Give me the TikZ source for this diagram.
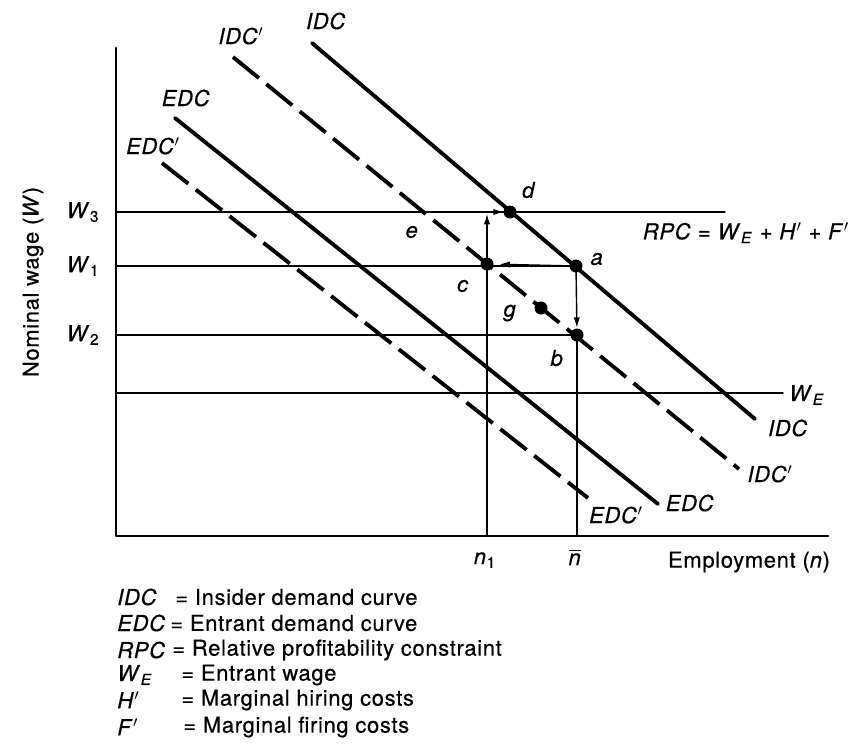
\documentclass[tikz,border=0pt]{standalone}
\usepackage{fontspec}
\setmainfont[LetterSpace=3,FakeBold=0.5]{TeX Gyre Heros}
\usepackage{amsmath}
\usetikzlibrary{arrows.meta,calc}

\begin{document}
\begin{tikzpicture}[
    x=0.02cm,
    y=-0.02cm,
    >={Latex[length=6pt,width=3.6pt]},
    line cap=round,
    line join=round,
    font=\fontsize{12.5}{15}\selectfont,
    curve/.style={line width=2.2pt},
    shifted/.style={line width=2.2pt, line cap=butt, dash pattern=on 19pt off 5.5pt},
    guide/.style={line width=0.8pt},
    axis/.style={line width=1.5pt},
    legend/.style={anchor=west, inner sep=0pt}
]

\useasboundingbox (0,0) rectangle (868,752);

% -----------------------
% Coordinates
% -----------------------
\coordinate (O)    at (116,536);
\coordinate (Ytop) at (116,48);
\coordinate (Xend) at (828,536);

\coordinate (d) at (510,212);
\coordinate (a) at (576,266);
\coordinate (c) at (487,264);
\coordinate (g) at (541,308);
\coordinate (b) at (577,335);

\coordinate (nOne) at (487,536);
\coordinate (nBar) at (577,536);
\coordinate (top3) at (487,212);

% -----------------------
% Axes
% -----------------------
\draw[axis] (Ytop) -- (O) -- (Xend);

% -----------------------
% Wage levels
% -----------------------
\draw[guide] (116,212) -- (725,212);
\draw[guide] (116,266) -- (a);
\draw[guide] (116,335) -- (b);
\draw[guide] (116,393) -- (783,393);

% -----------------------
% Employment levels
% -----------------------
\draw[guide] (nOne) -- (c);
\draw[guide] (nBar) -- (b);

% -----------------------
% Demand curves
% -----------------------
\draw[curve]   (312,43)  -- (755,419);   % IDC
\draw[shifted] (233,57)  -- (739,469);   % IDC'
\draw[curve]   (175,118) -- (658,504);   % EDC
\draw[shifted] (162,163) -- (588,498);   % EDC'

% -----------------------
% Adjustment path
% -----------------------
\draw[guide,->,shorten >=1pt]   (c) -- (top3);
\draw[guide,->,shorten >=3.5pt] (top3) -- (d);
\draw[guide,->,shorten >=7pt]   (a) -- (c);
\draw[guide,->,shorten >=4pt]   (a) -- (b);

% -----------------------
% Points
% -----------------------
\fill (d) circle (0.13cm);
\fill (a) circle (0.13cm);
\fill (c) circle (0.13cm);
\fill (g) circle (0.13cm);
\fill (b) circle (0.13cm);

\node (lblD) at (529,190) {\textit{d}};
\node (lblA) at (597,259) {\textit{a}};
\node (lblC) at (463,286) {\textit{c}};
\node (lblG) at (510,313) {\textit{g}};
\node (lblB) at (557,358) {\textit{b}};
\node (lblE) at (412,232) {\textit{e}};

% -----------------------
% Curve labels
% -----------------------
\node (topIDC)  at (326,21)  {\textit{IDC}};
\node (topIDCp) at (241,36)  {\textit{IDC}$'$};
\node (topEDC)  at (186,98)  {\textit{EDC}};
\node (topEDCp) at (153,146) {\textit{EDC}$'$};

\node (endIDC)  at (788,428) {\textit{IDC}};
\node (endIDCp) at (770,474) {\textit{IDC}$'$};
\node (endEDC)  at (690,503) {\textit{EDC}};
\node (endEDCp) at (616,515) {\textit{EDC}$'$};

\node (lblRPC) at (746,233) {\textit{RPC} = \textit{W}\textsubscript{\textit{E}} + \textit{H}$'$ + \textit{F}$'$};
\node[anchor=west,inner sep=0pt] (lblWE) at (789,395) {\textit{W}\textsubscript{\textit{E}}};

% -----------------------
% Axis labels
% -----------------------
\node (w3) at (83,212) {\textit{W}\textsubscript{3}};
\node (w1) at (83,266) {\textit{W}\textsubscript{1}};
\node (w2) at (83,335) {\textit{W}\textsubscript{2}};
\node[rotate=90] (ylab) at (33,282) {Nominal wage (\textit{W})};

\node (n1)   at (485,560) {\textit{n}\textsubscript{1}};
\node (nbar) at (575,557) {$\overline{\mbox{\textit{n}}}$};
\node (xlab) at (749,562) {Employment (\textit{n})};

% -----------------------
% Legend
% -----------------------
\node[legend] (keyIDC) at (117,597) {\textit{IDC}};
\node[legend] (keyEDC) at (117,623) {\textit{EDC}};
\node[legend] (keyRPC) at (117,650) {\textit{RPC}};
\node[legend] (keyWE)  at (117,675) {\textit{W}\textsubscript{\textit{E}}};
\node[legend] (keyH)   at (117,700) {\textit{H}$'$};
\node[legend] (keyF)   at (117,727) {\textit{F}$'$};

\node[legend] (defIDC) at (175,597) {= Insider demand curve};
\node[legend] (defEDC) at (170,623) {= Entrant demand curve};
\node[legend] (defRPC) at (172,650) {= Relative profitability constraint};
\node[legend] (defWE)  at (181,675) {= Entrant wage};
\node[legend] (defH)   at (181,700) {= Marginal hiring costs};
\node[legend] (defF)   at (183,727) {= Marginal firing costs};

\end{tikzpicture}
\end{document}
